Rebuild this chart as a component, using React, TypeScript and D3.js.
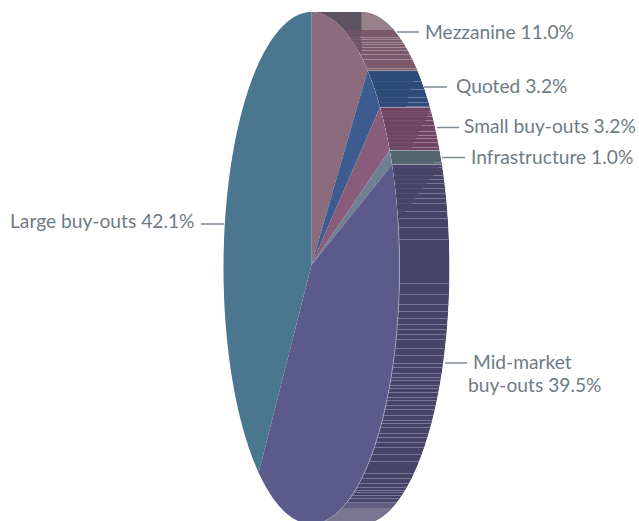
import * as d3 from "d3";

const categories = ["Mezzanine", "Quoted", "Small buy-outs", "Infrastructure", "Mid-market buy-outs", "Large buy-outs"];
// what the labels print
const labelValues = [11.0, 3.2, 3.2, 1.0, 39.5, 42.1];
// what the slices measure in the picture (the big two differ from their labels)
const sliceShares = [11.0, 3.2, 3.2, 1.0, 41.85, 39.75];

const faceColors = ["#8c6c7c", "#3c5c90", "#8a5c7c", "#6e8092", "#5c5a8a", "#4b7690"];
const wallColors = ["#7a5a6a", "#2e4a78", "#6c4662", "#54646e", "#474468", "#4b7690"];
const stripeColors = ["#a38a96", "#6a7ca8", "#a57d96", "#7d8c96", "#7a789a", "#4b7690"];

// wall stripes: row counted down from the top of the pie, and how far across the wall they start
const mezzRows = [25, 27, 30, 32, 35, 38, 42, 47, 56];
const mezzStarts = [0.22, 0.2, 0.18, 0.15, 0.12, 0.08, 0.03, 0, 0];
const quotedRows = [69, 77, 85, 90, 94];
const quotedStarts = [0.83, 0.73, 0.63, 0.6, 0.52];
const smallRows = [99, 101, 104, 108, 113, 119, 123, 126, 130, 135, 139];
const smallStarts = [0.96, 0.95, 0.89, 0.83, 0.75, 0.66, 0.63, 0.57, 0.52, 0.46, 0.42];
const infraRows = [150];
const infraStarts = [0.85];
const midRows = [
  155, 163, 167, 171, 176, 181, 186, 191, 199, 206, 215, 227, 271, 282, 292, 299, 306, 312, 317, 322, 327, 336, 343,
  351, 355, 361, 365, 368, 373, 376, 380, 385, 388, 393, 397, 403, 408, 411, 415, 421, 425, 430, 435, 442, 449, 461,
  466, 471, 475, 478, 480, 483, 486, 490,
];
const midStarts = [0.94, 0.79, 0.72, 0.65, 0.56, 0.47, 0.38, 0.31, 0.15, 0.03];

const stripeRows = [mezzRows, quotedRows, smallRows, infraRows, midRows, []];
const stripeStarts = [mezzStarts, quotedStarts, smallStarts, infraStarts, midStarts, []];

const width = 639;
const height = 521;
const cx = 311.5;
const cy = 268;
const apexY = 265;
const rx = 88;
const ry = 256;
const depth = 50;

const rowY = d3.scaleLinear().domain([0, 512]).range([cy - ry, cy + ry]);

const rim = (a: number, dx = 0): [number, number] => [cx + dx + rx * Math.sin(a), cy - ry * Math.cos(a)];
const rimX = (y: number) => cx + rx * Math.sqrt(Math.max(0, 1 - ((y - cy) / ry) ** 2));
const sample = (a0: number, a1: number) => d3.range(101).map((i) => a0 + ((a1 - a0) * i) / 100);

const line = d3.line();

const arcs = d3
  .pie<number>()
  .sort(null)
  .value((d) => d)(sliceShares);

const facePath = (a0: number, a1: number) => line([[cx, apexY], ...sample(a0, a1).map((a) => rim(a))]) + "Z";
const wallPath = (a0: number, a1: number) => {
  const end = Math.min(a1, Math.PI);
  return line([...sample(a0, end).map((a) => rim(a)), ...sample(end, a0).map((a) => rim(a, depth))]) + "Z";
};

// label text lines and where they sit, leader line from x1 to x2 at y
const labelLayout = [
  { x: 425, y: 38.5, lines: 1, lx1: 397, lx2: 419, ly: 32 },
  { x: 456, y: 93, lines: 1, lx1: 424, lx2: 447, ly: 87 },
  { x: 464, y: 133, lines: 1, lx1: 437, lx2: 459, ly: 127.5 },
  { x: 471, y: 163.5, lines: 1, lx1: 442, lx2: 465, ly: 157.5 },
  { x: 473, y: 369, lines: 2, lx1: 445, lx2: 467, ly: 363 },
  { x: 10, y: 228, lines: 1, lx1: 201, lx2: 224, ly: 224 },
];

const textColor = "#6e7b85";

export default function App() {
  return (
    <svg
      width={width}
      height={height}
      viewBox={`0 0 ${width} ${height}`}
      style={{ position: "absolute", left: 0, top: 0, background: "#fff" }}
      fontFamily="Lato, 'Open Sans', sans-serif"
    >
      <defs>
        {arcs.map((d, i) => (
          <clipPath id={`wall-${i}`} key={i}>
            <path d={wallPath(d.startAngle, d.endAngle)} />
          </clipPath>
        ))}
      </defs>

      {/* side walls, each with its stripes */}
      {arcs.map((d, i) =>
        i === 5 ? null : (
          <g key={i} clipPath={`url(#wall-${i})`}>
            <path d={wallPath(d.startAngle, d.endAngle)} fill={wallColors[i]} />
            {i === 0 && (
              <>
                <rect x={cx} y={rowY(0)} width={depth} height={rowY(18) - rowY(0)} fill="#5c5262" />
                <rect x={cx} y={rowY(18)} width={depth} height={rowY(40) - rowY(18)} fill="#6c5264" />
                <rect x={cx + depth} y={rowY(0)} width={depth * 2} height={rowY(18) - rowY(0)} fill="#96808a" />
              </>
            )}
            {stripeRows[i].map((row, j) => {
              const y = rowY(row);
              const start = stripeStarts[i][j] ?? 0;
              const x0 = rimX(y) + start * depth;
              return (
                <g key={j} shapeRendering="crispEdges">
                  {start > 0 && (
                    <rect x={rimX(y)} y={y} width={start * depth} height={1} fill={stripeColors[i]} opacity={0.2} />
                  )}
                  <rect x={x0} y={y} width={depth * (1 - start) + 2} height={1} fill={stripeColors[i]} />
                </g>
              );
            })}
            {i === 4 && (
              <>
                <rect x={cx} y={rowY(491)} width={depth * 3} height={rowY(496) - rowY(491)} fill="#625e80" />
                <rect x={cx - 40} y={rowY(496)} width={depth * 4} height={rowY(512) - rowY(496)} fill="#7a7692" />
              </>
            )}
          </g>
        )
      )}

      {/* top faces */}
      {arcs.map((d, i) => (
        <path key={i} d={facePath(d.startAngle, d.endAngle)} fill={faceColors[i]} />
      ))}

      {/* light edge along the wall of the big slice */}
      <path
        d={
          line(
            sample(arcs[4].startAngle, Math.PI)
              .map((a) => rim(a))
              .filter((p) => p[1] >= rowY(206))
          ) ?? ""
        }
        fill="none"
        stroke="#a9a7c4"
        strokeOpacity={0.7}
      />

      {categories.map((name, i) => {
        const l = labelLayout[i];
        const value = `${labelValues[i].toFixed(1)}%`;
        return (
          <g key={name} fill={textColor} fontSize={19.2}>
            <line x1={l.lx1} x2={l.lx2} y1={l.ly} y2={l.ly} stroke="#7d8993" strokeWidth={1.5} />
            {l.lines === 2 ? (
              <>
                <text x={l.x} y={l.y}>
                  Mid-market
                </text>
                <text x={l.x - 5} y={l.y + 23}>
                  {`buy-outs ${value}`}
                </text>
              </>
            ) : (
              <text x={l.x} y={l.y}>{`${name} ${value}`}</text>
            )}
          </g>
        );
      })}
    </svg>
  );
}
